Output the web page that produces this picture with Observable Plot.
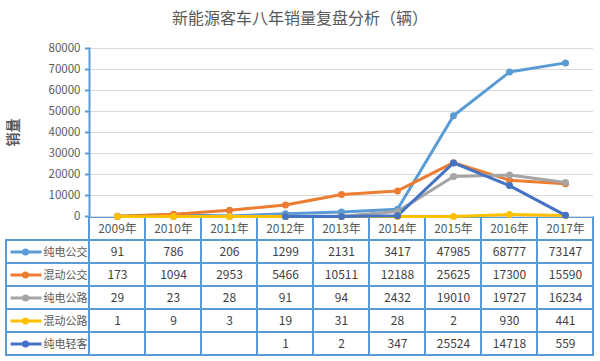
<!DOCTYPE html>
<html><head><meta charset="utf-8">
<script src="https://cdn.jsdelivr.net/npm/d3@7"></script>
<script src="https://cdn.jsdelivr.net/npm/@observablehq/plot@0.6"></script>
<style>
body{margin:0;background:#fff;}
#wrap{position:relative;width:600px;height:361px;font-family:"Noto Sans CJK SC",sans-serif;overflow:hidden;}
#title{position:absolute;left:0;top:7px;width:600px;text-align:center;font-size:16px;line-height:20px;color:#595959;}
</style></head><body>
<div id="wrap"><div id="title">新能源客车八年销量复盘分析（辆）</div></div>
<script>
const years = ["2009年","2010年","2011年","2012年","2013年","2014年","2015年","2016年","2017年"];
const seriesNames = ["纯电公交","混动公交","纯电公路","混动公路","纯电轻客"];
const seriesColors = ["#5b9bd5","#ed7d31","#a5a5a5","#ffc000","#4472c4"];
const pureEBus      = [91, 786, 206, 1299, 2131, 3417, 47985, 68777, 73147];
const hybridBus     = [173, 1094, 2953, 5466, 10511, 12188, 25625, 17300, 15590];
const pureECoach    = [29, 23, 28, 91, 94, 2432, 19010, 19727, 16234];
const hybridCoach   = [1, 9, 3, 19, 31, 28, 2, 930, 441];
const pureELightBus = [null, null, null, 1, 2, 347, 25524, 14718, 559];
const yTicks = [0, 10000, 20000, 30000, 40000, 50000, 60000, 70000, 80000];
const headerKey = "年份";

const seriesValues = [pureEBus, hybridBus, pureECoach, hybridCoach, pureELightBus];
const rows = [];
seriesValues.forEach((arr, s) => arr.forEach((v, i) => rows.push({series: seriesNames[s], year: years[i], value: v})));
const lineData = rows.filter(d => d.value != null);

const axisBlue = "#5b9bd5";
const font = "'Noto Sans CJK SC', sans-serif";
const wrap = document.getElementById("wrap");

function place(el, top, z) {
  el.style.position = "absolute";
  el.style.left = "0px";
  el.style.top = top + "px";
  el.style.zIndex = z;
  wrap.appendChild(el);
}

// Data table (header row of years + value rows)
const tableCells = rows.map(d => ({row: d.series, year: d.year, label: d.value == null ? "" : String(d.value)}));
const headerCells = years.map(y => ({row: headerKey, year: y, label: y}));
const table = Plot.plot({
  width: 600, height: 145, marginTop: 0, marginBottom: 6, marginLeft: 89, marginRight: 7,
  style: {background: "transparent", overflow: "visible", fontFamily: font},
  x: {type: "band", domain: years, padding: 0, axis: null},
  y: {type: "band", domain: [headerKey, ...seriesNames], padding: 0, axis: null},
  marks: [
    Plot.cell([...headerCells, ...tableCells], {x: "year", y: "row", fill: "white", stroke: axisBlue, strokeWidth: 2}),
    Plot.text(headerCells, {x: "year", y: "row", text: "label", fill: "#595959", fontSize: 12}),
    Plot.text(tableCells, {x: "year", y: "row", text: "label", fill: "#404040", fontSize: 12})
  ]
});
place(table, 216, 1);

// Legend column
const swatchLine = {draw(ctx) { ctx.rect(-15, -1.5, 31, 3); }};
const legend = Plot.plot({
  width: 89, height: 145, marginTop: 0, marginBottom: 6, marginLeft: 6, marginRight: 0,
  style: {background: "transparent", overflow: "visible", fontFamily: font},
  y: {type: "band", domain: [headerKey, ...seriesNames], padding: 0, axis: null},
  color: {domain: seriesNames, range: seriesColors},
  marks: [
    Plot.cell(seriesNames, {y: d => d, fill: "white", stroke: axisBlue, strokeWidth: 2}),
    Plot.dot(seriesNames, {y: d => d, frameAnchor: "left", dx: 19, symbol: swatchLine, r: 4, fill: d => d, stroke: "none"}),
    Plot.dot(seriesNames, {y: d => d, frameAnchor: "left", dx: 19, r: 3.5, fill: d => d}),
    Plot.text(seriesNames, {y: d => d, frameAnchor: "left", dx: 37, textAnchor: "start", fill: "#595959", fontSize: 11})
  ]
});
place(legend, 216, 2);

// Line chart
const chart = Plot.plot({
  width: 600, height: 216, marginTop: 48, marginBottom: 0, marginLeft: 89, marginRight: 7,
  style: {background: "transparent", overflow: "visible", fontFamily: font},
  x: {type: "band", domain: years, padding: 0, axis: null},
  y: {domain: [0, 80000], axis: null},
  color: {domain: seriesNames, range: seriesColors},
  marks: [
    Plot.gridY(yTicks, {stroke: "#d9d9d9", strokeOpacity: 1, strokeWidth: 1}),
    Plot.axisY(yTicks, {tickSize: 4, tickPadding: 5, stroke: axisBlue, strokeWidth: 2, fill: "#595959", fontSize: 11.5, label: null, tickFormat: d => String(d)}),
    Plot.frame({anchor: "left", stroke: axisBlue, strokeWidth: 2}),
    Plot.text(["销量"], {frameAnchor: "left", dx: -76, rotate: -90, textAnchor: "middle", lineAnchor: "middle", fontSize: 14, fontWeight: "bold", fill: "#595959"}),
    Plot.line(lineData, {x: "year", y: "value", stroke: "series", z: "series", strokeWidth: 3}),
    Plot.dot(lineData, {x: "year", y: "value", fill: "series", r: 3.5})
  ]
});
place(chart, 0, 3);
</script>
</body></html>
